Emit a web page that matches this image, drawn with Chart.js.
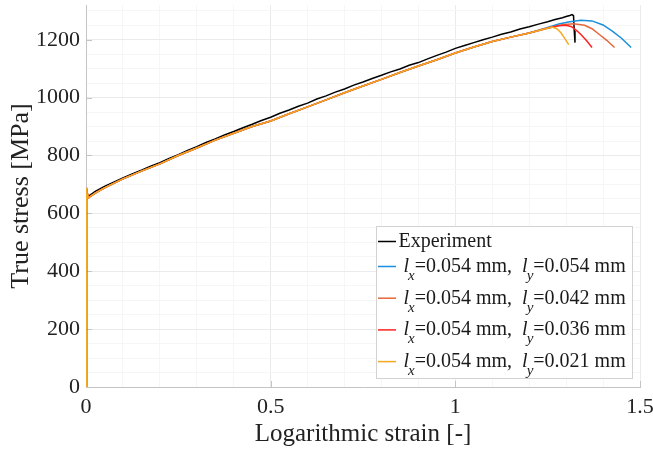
<!DOCTYPE html>
<html>
<head>
<meta charset="utf-8">
<title>True stress vs logarithmic strain</title>
<script src="https://cdn.jsdelivr.net/npm/chart.js@4.4.0/dist/chart.umd.min.js"></script>
<style>
    html, body { margin: 0; padding: 0; background: #ffffff; }
    #curve-chart { display: block; }
</style>
</head>
<body>
<canvas id="curve-chart" width="653" height="451"></canvas>
<script>
// Experimental curve (logarithmic strain [-], true stress [MPa])
const expStrain = [0, 0.0008, 0.0015, 0.003, 0.006, 0.012, 0.025, 0.05, 0.075, 0.1, 0.125, 0.15, 0.175, 0.2, 0.225, 0.25,
    0.275, 0.3, 0.325, 0.35, 0.375, 0.4, 0.425, 0.45, 0.475, 0.5, 0.525, 0.55, 0.575, 0.6, 0.625, 0.65, 0.675, 0.7,
    0.725, 0.75, 0.775, 0.8, 0.825, 0.85, 0.875, 0.9, 0.925, 0.95, 0.975, 1.0, 1.025, 1.05, 1.075, 1.1, 1.125, 1.15,
    1.175, 1.2, 1.225, 1.25, 1.27, 1.29, 1.3, 1.31, 1.316, 1.32, 1.322, 1.324];
const expStress = [0, 560, 665, 668, 660, 664, 676, 693, 708, 722, 736, 749, 763, 775, 790, 803,
    817, 830, 845, 857, 871, 883, 896, 908, 921, 932, 946, 957, 970, 981, 995, 1006, 1019, 1030,
    1043, 1054, 1066, 1077, 1089, 1099, 1112, 1121, 1134, 1146, 1157, 1170, 1180, 1190, 1200, 1209, 1219, 1227,
    1237, 1245, 1254, 1262, 1270, 1276, 1280, 1284, 1287, 1283, 1230, 1190];

// Simulated curves share the same path up to eps = 1.2
const simStrain = [0, 0.0005, 0.001, 0.002, 0.003, 0.005, 0.01, 0.025, 0.05, 0.1, 0.15, 0.2, 0.25, 0.3, 0.35, 0.4,
    0.45, 0.5, 0.55, 0.6, 0.65, 0.7, 0.75, 0.8, 0.85, 0.9, 0.95, 1.0, 1.05, 1.1, 1.15, 1.2];
const simStress = [0, 420, 640, 688, 668, 652, 657, 670, 688, 719, 746, 771, 800, 826, 853, 877,
    900, 919, 944, 968, 992, 1017, 1040, 1063, 1087, 1109, 1131, 1154, 1175, 1194, 1209, 1223];

// Softening tails for each l_y
const tailStrain054 = [1.25, 1.28, 1.31, 1.34, 1.37, 1.4, 1.425, 1.45, 1.476];
const tailStress054 = [1242, 1254, 1262, 1267, 1265, 1251, 1230, 1205, 1173];
const tailStrain042 = [1.25, 1.29, 1.32, 1.35, 1.37, 1.39, 1.41, 1.431];
const tailStress042 = [1241, 1252, 1255, 1250, 1238, 1218, 1198, 1173];
const tailStrain036 = [1.25, 1.28, 1.3, 1.315, 1.33, 1.34, 1.355, 1.37];
const tailStress036 = [1240, 1248, 1250, 1245, 1230, 1218, 1197, 1173];
const tailStrain021 = [1.25, 1.262, 1.275, 1.286, 1.297, 1.307];
const tailStress021 = [1240, 1244, 1238, 1224, 1203, 1183];

const seriesLabels = [
    'Experiment',
    ' l_x=0.054 mm,  l_y=0.054 mm',
    ' l_x=0.054 mm,  l_y=0.042 mm',
    ' l_x=0.054 mm,  l_y=0.036 mm',
    ' l_x=0.054 mm,  l_y=0.021 mm'
];
const seriesColors = ['#000000', '#1a8fdc', '#e4683c', '#ff2020', '#f2aa22'];

function toPoints(xs, ys) {
    return xs.map((x, i) => ({ x: x, y: ys[i] }));
}

function simCurve(tailX, tailY) {
    return toPoints(simStrain.concat(tailX), simStress.concat(tailY));
}

function isMajor(v, step) {
    return Math.abs(v / step - Math.round(v / step)) < 1e-6;
}

const serif = '"Liberation Serif", "Times New Roman", serif';

// inward tick marks on the major values
const ticksInternos = {
    id: 'ticksInternos',
    beforeDatasetsDraw(chart) {
        const ctx = chart.ctx;
        const area = chart.chartArea;
        ctx.save();
        ctx.strokeStyle = '#c4c4c4';
        ctx.lineWidth = 1;
        ctx.beginPath();
        chart.scales.x.ticks.forEach(t => {
            if (!isMajor(t.value, 0.5)) return;
            const px = Math.round(chart.scales.x.getPixelForValue(t.value)) + 0.5;
            ctx.moveTo(px, area.bottom);
            ctx.lineTo(px, area.bottom - 6);
        });
        chart.scales.y.ticks.forEach(t => {
            if (!isMajor(t.value, 200)) return;
            const py = Math.round(chart.scales.y.getPixelForValue(t.value)) + 0.5;
            ctx.moveTo(area.left, py);
            ctx.lineTo(area.left + 6, py);
        });
        ctx.stroke();
        ctx.restore();
    }
};

// legend with italic l and subscripts, drawn in the lower right corner
const legendaCurvas = {
    id: 'legendaCurvas',
    afterDraw(chart) {
        const ctx = chart.ctx;
        const area = chart.chartArea;
        const mainFont = '20px ' + serif;
        const italicFont = 'italic 20px ' + serif;
        const subFont = 'italic 15px ' + serif;

        const parts = seriesLabels.map(label => label.split(/(l_[xy])/).filter(p => p.length));

        function drawParts(list, x, y, measureOnly) {
            let cx = x;
            list.forEach(p => {
                if (/^l_[xy]$/.test(p)) {
                    ctx.font = italicFont;
                    if (!measureOnly) ctx.fillText('l', cx, y);
                    cx += ctx.measureText('l').width;
                    ctx.font = subFont;
                    if (!measureOnly) ctx.fillText(p[2], cx - 1, y + 8);
                    cx += ctx.measureText(p[2]).width - 1;
                } else {
                    ctx.font = mainFont;
                    if (!measureOnly) ctx.fillText(p, cx, y);
                    cx += ctx.measureText(p).width;
                }
            });
            return cx - x;
        }

        ctx.save();
        ctx.textBaseline = 'alphabetic';
        ctx.textAlign = 'left';
        const textW = Math.max(...parts.map(p => drawParts(p, 0, 0, true)));
        const boxW = Math.round(2 + 18 + 2.5 + textW + 7);
        const boxH = 153;
        const left = Math.round(area.right - 7 - boxW);
        const top = Math.round(area.bottom - 8 - boxH);

        ctx.fillStyle = '#ffffff';
        ctx.fillRect(left, top, boxW, boxH);
        ctx.strokeStyle = '#d2d2d2';
        ctx.lineWidth = 1;
        ctx.strokeRect(left + 0.5, top + 0.5, boxW - 1, boxH - 1);

        const baselines = [21, 46, 77.7, 109.4, 141.1];
        parts.forEach((p, i) => {
            const by = top + baselines[i];
            ctx.strokeStyle = seriesColors[i];
            ctx.lineWidth = 1.5;
            ctx.beginPath();
            ctx.moveTo(left + 2, by - 5.5);
            ctx.lineTo(left + 20, by - 5.5);
            ctx.stroke();
            ctx.fillStyle = '#1a1a1a';
            drawParts(p, left + 22.5, by, false);
        });
        ctx.restore();
    }
};

function criarGraficoCurvas() {
    const ctx = document.getElementById('curve-chart').getContext('2d');

    const datasets = [
        { data: toPoints(expStrain, expStress), order: 4 },
        { data: simCurve(tailStrain054, tailStress054), order: 3 },
        { data: simCurve(tailStrain042, tailStress042), order: 2 },
        { data: simCurve(tailStrain036, tailStress036), order: 1 },
        { data: simCurve(tailStrain021, tailStress021), order: 0 }
    ].map((ds, i) => Object.assign(ds, {
        label: seriesLabels[i].trim(),
        borderColor: seriesColors[i],
        backgroundColor: seriesColors[i],
        borderWidth: 1.5,
        pointRadius: 0,
        tension: 0,
        fill: false
    }));

    return new Chart(ctx, {
        type: 'line',
        data: { datasets: datasets },
        options: {
            responsive: false,
            animation: false,
            layout: { padding: { left: 6, right: 13, top: 5, bottom: 0 } },
            plugins: {
                legend: { display: false },
                tooltip: { enabled: false }
            },
            scales: {
                x: {
                    type: 'linear',
                    min: 0,
                    max: 1.5,
                    ticks: {
                        stepSize: 0.1,
                        autoSkip: false,
                        maxRotation: 0,
                        padding: 7,
                        color: '#222222',
                        font: { family: serif, size: 22 },
                        callback: v => isMajor(v, 0.5) ? String(Number(v.toFixed(1))) : ''
                    },
                    grid: {
                        drawTicks: false,
                        color: c => isMajor(c.tick.value, 0.5) ? '#ebebeb' : '#f6f6f6'
                    },
                    border: { color: '#c4c4c4' },
                    title: {
                        display: true,
                        text: 'Logarithmic strain [-]',
                        color: '#222222',
                        font: { family: serif, size: 25 },
                        padding: { top: 0, bottom: 2 }
                    },
                    afterFit: s => {
                        s.height = 64;
                        s.paddingLeft = 0;
                        s.paddingRight = 0;
                    }
                },
                y: {
                    type: 'linear',
                    min: 0,
                    max: 1320,
                    ticks: {
                        stepSize: 50,
                        includeBounds: false,
                        autoSkip: false,
                        padding: 6,
                        color: '#222222',
                        font: { family: serif, size: 22 },
                        callback: v => isMajor(v, 200) ? String(v) : ''
                    },
                    grid: {
                        drawTicks: false,
                        color: c => isMajor(c.tick.value, 200) ? '#ebebeb' : '#f6f6f6'
                    },
                    border: { color: '#c4c4c4' },
                    title: {
                        display: true,
                        text: 'True stress [MPa]',
                        color: '#222222',
                        font: { family: serif, size: 26 },
                        padding: { top: 0, bottom: 0 }
                    },
                    afterFit: s => {
                        s.width = 80;
                        s.paddingTop = 0;
                        s.paddingBottom = 0;
                    }
                }
            }
        },
        plugins: [ticksInternos, legendaCurvas]
    });
}

criarGraficoCurvas();
</script>
</body>
</html>
